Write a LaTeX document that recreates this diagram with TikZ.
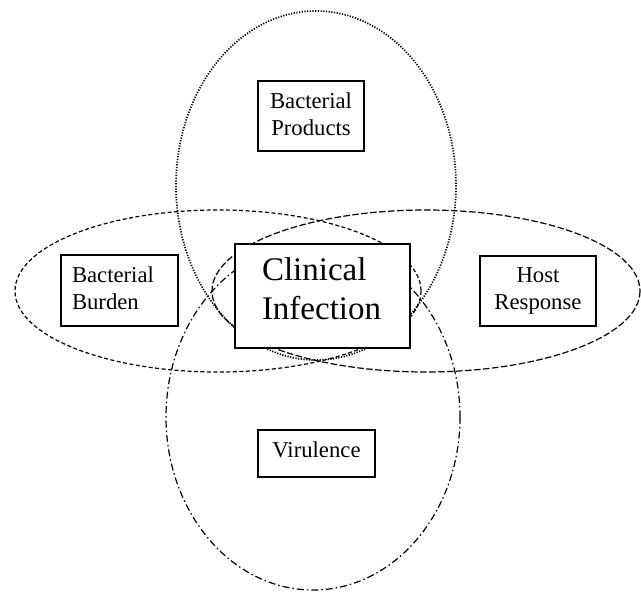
\documentclass[tikz,border=0pt]{standalone}
\usepackage{fontspec}
\setmainfont{Liberation Serif}
\begin{document}
\begin{tikzpicture}[x=1pt,y=-1pt,
  ring/.style={line width=1.2pt},
  dotring/.style={ring,line width=1.7pt,dash pattern=on 1.2pt off 1.5pt},
  leftring/.style={ring,dash pattern=on 4pt off 2.5pt},
  rightring/.style={ring,dash pattern=on 6.5pt off 2.5pt},
  botring/.style={ring,dash pattern=on 7pt off 3pt on 1.5pt off 3pt},
  factor/.style={draw,line width=1.2pt,fill=white,inner xsep=0pt,inner ysep=0pt,
    font=\fontsize{22.7}{27}\selectfont,text height=17pt},
  core/.style={draw,line width=1.4pt,fill=white,inner xsep=27pt,inner ysep=0pt,
    font=\fontsize{33}{39}\selectfont,align=left,text width=121pt,
    minimum height=104pt,text height=24pt,text depth=56pt}
]
\useasboundingbox (0,0) rectangle (641,592);
% overlapping regions
\draw[dotring] (316,185.5) ellipse [x radius=140, y radius=174.5];
\draw[leftring] (218,291) ellipse [x radius=203, y radius=81];
\draw[rightring] (426,291) ellipse [x radius=214, y radius=81];
\draw[botring] (313,417) ellipse [x radius=147, y radius=173];
% boxes
\node[factor,align=center,text width=106pt,minimum height=70pt,text depth=33pt]
  (products) at (311,116) {Bacterial\\Products};
\node[factor,align=left,inner xsep=11pt,text width=95pt,minimum height=71pt,text depth=34pt]
  (burden) at (119.5,290.5) {Bacterial\\Burden};
\node[factor,align=center,text width=116pt,minimum height=70pt,text depth=35pt]
  (host) at (538,291) {Host\\Response};
\node[factor,align=center,text width=117pt,minimum height=47pt,text depth=10pt]
  (virulence) at (316.5,453.5) {Virulence};
\node[core] (clinical) at (322.5,296) {Clinical\\Infection};
\end{tikzpicture}
\end{document}
